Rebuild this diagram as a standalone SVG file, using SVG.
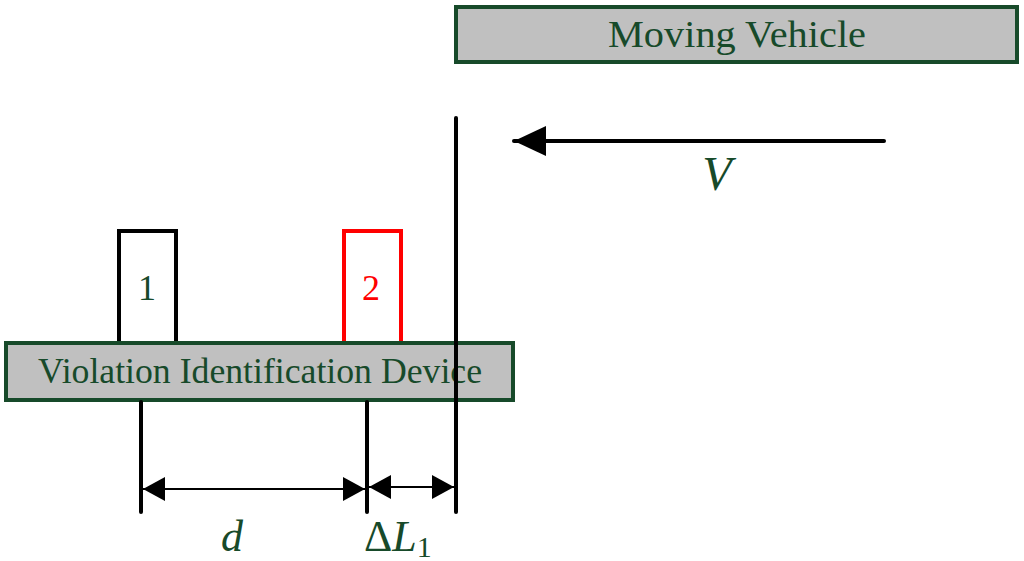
<svg xmlns="http://www.w3.org/2000/svg" width="1024" height="561" viewBox="0 0 1024 561">
<style>
.box{fill:#c0c0c0;stroke:#174a2a;stroke-width:4}
.t{font-family:"Liberation Serif","Times New Roman","DejaVu Serif",serif;fill:#174a2a}
.ln{stroke:#000;stroke-width:4;stroke-linecap:round;fill:none}
.thin{stroke:#000;stroke-width:2;fill:none}
</style>
<defs>
<marker id="ah" markerUnits="userSpaceOnUse" markerWidth="24" markerHeight="24" refX="22" refY="12" orient="auto-start-reverse" viewBox="0 0 24 24">
<path d="M0,0 L22,12 L0,24 Z" fill="#000"/>
</marker>
<marker id="big" markerUnits="userSpaceOnUse" markerWidth="34" markerHeight="30" refX="32" refY="15" orient="auto" viewBox="0 0 34 30">
<path d="M0,0 L32,15 L0,30 Z" fill="#000"/>
</marker>
</defs>
<g id="vehicle">
<rect class="box" x="456" y="7" width="561" height="55"/>
<text class="t" x="737" y="47" font-size="38" text-anchor="middle" textLength="258" lengthAdjust="spacingAndGlyphs">Moving Vehicle</text>
</g>
<g id="sensor1">
<rect x="119" y="231" width="57" height="112" fill="#fff" stroke="#000" stroke-width="4"/>
<text class="t" x="147" y="300" font-size="36" text-anchor="middle">1</text>
</g>
<g id="sensor2">
<rect x="344" y="231" width="57" height="112" fill="#fff" stroke="#ff0000" stroke-width="4"/>
<text class="t" x="371" y="300" font-size="36" text-anchor="middle" style="fill:#ff0000">2</text>
</g>
<g id="device">
<rect class="box" x="6" y="343" width="507" height="57"/>
<text class="t" x="260" y="383" font-size="35" text-anchor="middle" textLength="444" lengthAdjust="spacingAndGlyphs">Violation Identification Device</text>
</g>
<g id="connectors">
<line class="ln" x1="456" y1="118" x2="456" y2="512"/>
<line class="ln" x1="141" y1="402" x2="141" y2="512"/>
<line class="ln" x1="367" y1="402" x2="367" y2="512"/>
<line class="ln" x1="884" y1="141" x2="514" y2="141" stroke-linecap="butt" marker-end="url(#big)"/>
<line class="thin" x1="143" y1="489" x2="365" y2="489" marker-start="url(#ah)" marker-end="url(#ah)"/>
<line class="thin" x1="369" y1="487" x2="454" y2="487" marker-start="url(#ah)" marker-end="url(#ah)"/>
</g>
<g id="labels">
<text class="t" x="717" y="190" font-size="48" font-style="italic" text-anchor="middle">V</text>
<text class="t" x="232" y="551" font-size="44" font-style="italic" text-anchor="middle">d</text>
<text class="t" x="364" y="551" font-size="44">Δ<tspan font-style="italic">L</tspan><tspan font-size="30" dy="6">1</tspan></text>
</g>
</svg>
